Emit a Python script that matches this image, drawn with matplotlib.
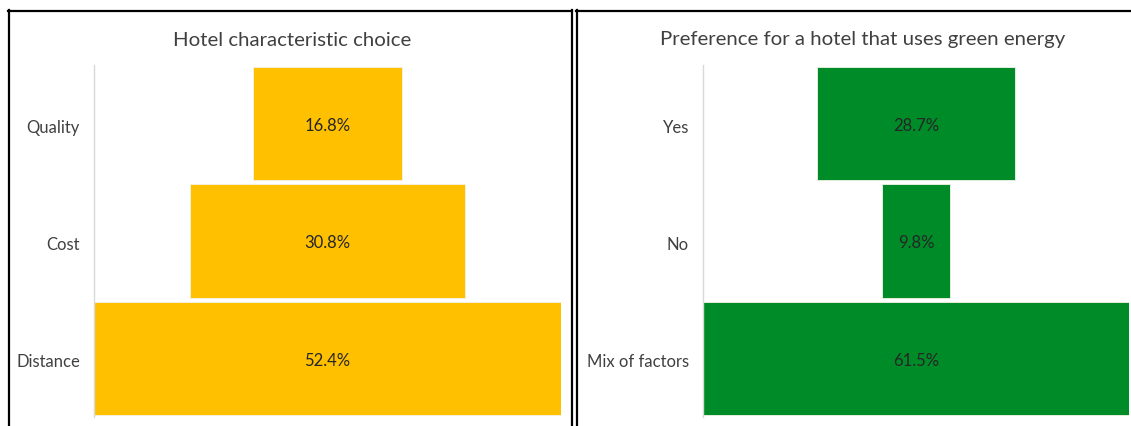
import matplotlib
matplotlib.use("Agg")
import matplotlib.pyplot as plt
from matplotlib.lines import Line2D

plt.rcParams['font.family'] = ['Lato', 'DejaVu Sans']

left_title = "Hotel characteristic choice"
left_cats = ["Quality", "Cost", "Distance"]
left_vals = [16.8, 30.8, 52.4]

right_title = "Preference for a hotel that uses green energy"
right_cats = ["Yes", "No", "Mix of factors"]
right_vals = [28.7, 9.8, 61.5]

W, H = 1131, 426
fig = plt.figure(figsize=(W / 100, H / 100), dpi=100)


def px_axes(x0, x1, ytop, ybot):
    return fig.add_axes([x0 / W, 1 - ybot / H, (x1 - x0) / W, (ybot - ytop) / H])


def funnel(ax, cats, vals, color):
    m = max(vals)
    ys = list(range(len(cats)))
    lefts = [(m - v) / 2 for v in vals]
    ax.barh(ys, vals, left=lefts, height=0.965, color=color,
            edgecolor='#f3f3e8', linewidth=0.6)
    for y, l, v in zip(ys, lefts, vals):
        ax.text(l + v / 2, y + 0.02, f"{v:.1f}%", ha='center', va='center',
                fontsize=12, color='#262626')
    ax.set_xlim(0, m)
    ax.set_ylim(len(cats) - 0.5, -0.5)
    ax.set_yticks([y + 0.02 for y in ys])
    ax.set_yticklabels(cats, fontsize=12, color='#404040')
    ax.tick_params(axis='y', length=0, pad=10)
    ax.set_xticks([])
    for s in ['top', 'right', 'bottom']:
        ax.spines[s].set_visible(False)
    ax.spines['left'].set_color('#d9d9d9')
    ax.spines['left'].set_linewidth(1)


axL = px_axes(94, 561, 65, 417)
funnel(axL, left_cats, left_vals, '#FFC000')
axR = px_axes(703, 1129, 65, 417)
funnel(axR, right_cats, right_vals, '#008B29')

fig.text(292 / W, 1 - 40 / H, left_title, ha='center', va='center',
         fontsize=14.7, color='#404040')
fig.text(863 / W, 1 - 40 / H, right_title, ha='center', va='center',
         fontsize=14.7, color='#404040')


def hline(x0, x1, y, lw=1.6):
    fig.add_artist(Line2D([x0 / W, x1 / W], [1 - y / H, 1 - y / H],
                          color='black', lw=lw, transform=fig.transFigure))


def vline(x, y0, y1, lw=1.6):
    fig.add_artist(Line2D([x / W, x / W], [1 - y0 / H, 1 - y1 / H],
                          color='black', lw=lw, transform=fig.transFigure))


hline(8, 572, 10.5)
vline(8.5, 10, 426)
vline(572, 10, 426)
hline(576, 1131, 10.5)
vline(576.5, 10, 426)

fig.savefig("out.png", dpi=100)
